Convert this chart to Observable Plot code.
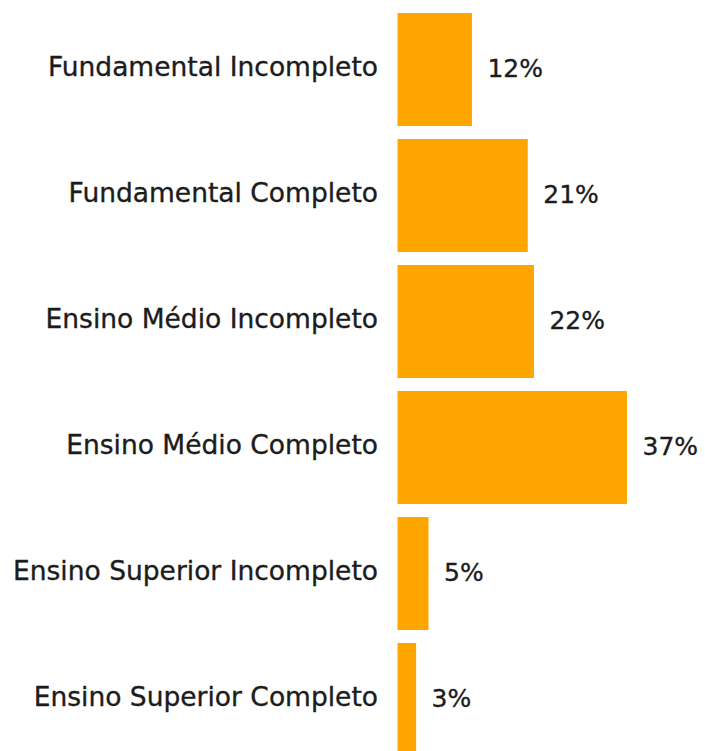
<!DOCTYPE html>
<html>
<head>
<meta charset="utf-8">
<script src="https://cdn.jsdelivr.net/npm/d3@7"></script>
<script src="https://cdn.jsdelivr.net/npm/@observablehq/plot@0.6"></script>
<style>
  html, body { margin: 0; padding: 0; background: #fff; }
  #chart svg { display: block; }
</style>
</head>
<body>
<div id="chart"></div>
<script>
const categories = [
  "Fundamental Incompleto",
  "Fundamental Completo",
  "Ensino Médio Incompleto",
  "Ensino Médio Completo",
  "Ensino Superior Incompleto",
  "Ensino Superior Completo"
];
const values = [12, 21, 22, 37, 5, 3];
const valueLabels = ["12%", "21%", "22%", "37%", "5%", "3%"];

const data = categories.map((c, i) => ({category: c, value: values[i], label: valueLabels[i]}));

const chart = Plot.plot({
  width: 705,
  height: 765,
  marginLeft: 397.5,
  marginRight: 78,
  marginTop: 3.7,
  marginBottom: 0,
  style: {fontFamily: "'DejaVu Sans', sans-serif", background: "#fff"},
  x: {domain: [0, 37], axis: null},
  y: {domain: categories, paddingInner: 0.1, paddingOuter: 0.05, axis: null},
  marks: [
    Plot.barX(data, {y: "category", x: "value", fill: "#FFA500"}),
    Plot.text(data, {y: "category", x: 0, text: "category", textAnchor: "end", dx: -20, dy: -2, fontSize: 26.5, fill: "#1c1c1c", stroke: "#1c1c1c", strokeWidth: 0.35}),
    Plot.text(data, {y: "category", x: "value", text: "label", textAnchor: "start", dx: 15, dy: -1, fontSize: 25, fill: "#1c1c1c", stroke: "#1c1c1c", strokeWidth: 0.35})
  ]
});
document.getElementById("chart").appendChild(chart);
</script>
</body>
</html>
